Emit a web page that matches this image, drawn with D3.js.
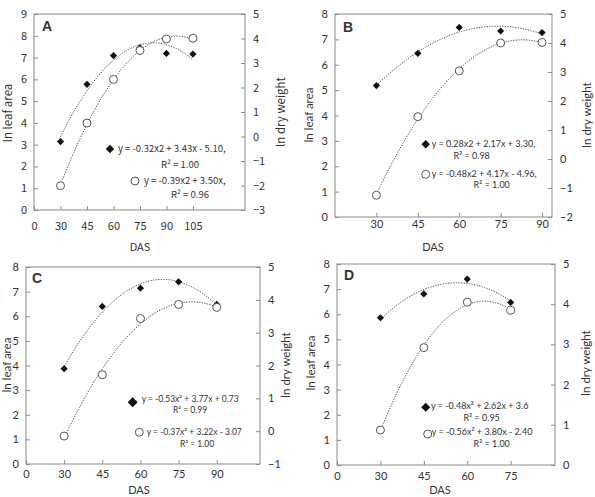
<!DOCTYPE html>
<html>
<head>
<meta charset="utf-8">
<script src="https://cdn.jsdelivr.net/npm/d3@7"></script>
<style>
  body { margin: 0; background: #fff; }
  svg text { fill: #333; }
</style>
</head>
<body>
<div id="chart"></div>
<script>
// values (DAS = days after sowing)
var dasA = [30, 45, 60, 75, 90, 105];
var leafA = [3.14, 5.77, 7.09, 7.45, 7.19, 7.16];
var dryA = [-2.01, 0.55, 2.33, 3.51, 3.98, 4.01];
var legendA = ["y = -0.32x2 + 3.43x - 5.10,", "R² = 1.00", "y = -0.39x2 + 3.50x,", "R² = 0.96"];
var xTicksA = [0, 30, 45, 60, 75, 90, 105];
var leftTicksA = [0, 1, 2, 3, 4, 5, 6, 7, 8, 9];
var rightTicksA = [-3, -2, -1, 0, 1, 2, 3, 4, 5];

var dasB = [30, 45, 60, 75, 90];
var leafB = [5.18, 6.45, 7.47, 7.33, 7.27];
var dryB = [-1.25, 1.46, 3.04, 4.00, 4.02];
var legendB = ["y = 0.28x2 + 2.17x + 3.30,", "R² = 0.98", "y = -0.48x2 + 4.17x - 4.96,", "R² = 1.00"];
var xTicksB = [30, 45, 60, 75, 90];
var leftTicksB = [0, 1, 2, 3, 4, 5, 6, 7, 8];
var rightTicksB = [-2, -1, 0, 1, 2, 3, 4, 5];

var dasC = [30, 45, 60, 75, 90];
var leafC = [3.87, 6.40, 7.14, 7.40, 6.48];
var dryC = [-0.15, 1.72, 3.43, 3.86, 3.77];
var legendC = ["y = -0.53x² + 3.77x + 0.73", "R² = 0.99", "y = -0.37x² + 3.22x - 3.07", "R² = 1.00"];
var xTicksC = [0, 30, 45, 60, 75, 90];
var leftTicksC = [0, 1, 2, 3, 4, 5, 6, 7, 8];
var rightTicksC = [-1, 0, 1, 2, 3, 4, 5];

var dasD = [30, 45, 60, 75];
var leafD = [5.86, 6.81, 7.40, 6.47];
var dryD = [0.87, 2.92, 4.05, 3.85];
var legendD = ["y = -0.48x² + 2.62x + 3.6", "R² = 0.95", "y = -0.56x² + 3.80x - 2.40", "R² = 1.00"];
var xTicksD = [0, 30, 45, 60, 75];
var leftTicksD = [0, 1, 2, 3, 4, 5, 6, 7, 8];
var rightTicksD = [0, 1, 2, 3, 4, 5];

var svg = d3.select("#chart")
  .append("svg")
  .attr("width", 595)
  .attr("height", 497);

// layout of each panel (pixel boxes, axis extents, legend spots)
var panels = [
  { name: "A", das: dasA, leaf: leafA, dry: dryA, legend: legendA,
    xTicks: xTicksA, leftTicks: leftTicksA, rightTicks: rightTicksA,
    box: [34, 14, 245, 210], xDom: [15, 134.5], font: "'Noto Sans CJK KR', 'Noto Sans', sans-serif",
    xPad: 12, label: [42, 31], leftTitle: [8, 113], rightTitle: [281, 112], das_t: [140, 251],
    dia: [110, 149, 36], t1: [118, 149], r1: [180, 165], circ: [135, 181], t2: [144, 181], r2: [190, 195], lfs: 9.5 },
  { name: "B", das: dasB, leaf: leafB, dry: dryB, legend: legendB,
    xTicks: xTicksB, leftTicks: leftTicksB, rightTicks: rightTicksB,
    box: [335, 14, 552, 217], xDom: [15, 93.6], font: "Lato, 'Open Sans', sans-serif",
    xPad: 3, label: [343, 32], leftTitle: [309, 115], rightTitle: [587, 115], das_t: [433, 251],
    dia: [425.7, 144.3, 36], t1: [431.7, 144.3], r1: [471.7, 155.7], circ: [425.7, 174.3], t2: [431.7, 174.3], r2: [491.7, 185], lfs: 9 },
  { name: "C", das: dasC, leaf: leafC, dry: dryC, legend: legendC,
    xTicks: xTicksC, leftTicks: leftTicksC, rightTicks: rightTicksC,
    box: [26, 267, 260, 464], xDom: [15, 107], font: "Lato, 'Open Sans', sans-serif",
    xPad: 6, label: [32, 283], leftTitle: [7, 365], rightTitle: [286, 365], das_t: [139, 494],
    dia: [132.7, 402.3, 50], t1: [141.7, 399], r1: [190, 410], circ: [139.3, 432.3], t2: [146.7, 431.7], r2: [197, 444], lfs: 8.5 },
  { name: "D", das: dasD, leaf: leafD, dry: dryD, legend: legendD,
    xTicks: xTicksD, leftTicks: leftTicksD, rightTicks: rightTicksD,
    box: [337, 264, 555, 465], xDom: [15, 90.3], font: "Lato, 'Open Sans', sans-serif",
    xPad: 7, label: [344, 280], leftTitle: [311, 363], rightTitle: [586, 363], das_t: [440, 494],
    dia: [425.7, 407.3, 40], t1: [431, 406.3], r1: [481.7, 418.3], circ: [427.7, 434], t2: [431.7, 431.7], r2: [491.7, 444], lfs: 9 }
];

// least squares quadratic, like the spreadsheet trendline
function quadFit(xs, ys) {
  var s = [0, 0, 0, 0, 0], t = [0, 0, 0];
  xs.forEach(function(x, i) {
    var u = x / 15;
    for (var k = 0; k < 5; k++) s[k] += Math.pow(u, k);
    for (var k = 0; k < 3; k++) t[k] += ys[i] * Math.pow(u, k);
  });
  var m = [[s[0], s[1], s[2], t[0]], [s[1], s[2], s[3], t[1]], [s[2], s[3], s[4], t[2]]];
  for (var i = 0; i < 3; i++) {
    for (var j = i + 1; j < 3; j++) {
      var f = m[j][i] / m[i][i];
      for (var k = i; k < 4; k++) m[j][k] -= f * m[i][k];
    }
  }
  var c = [0, 0, 0];
  for (var i = 2; i >= 0; i--) {
    var v = m[i][3];
    for (var k = i + 1; k < 3; k++) v -= m[i][k] * c[k];
    c[i] = v / m[i][i];
  }
  return function(x) { var u = x / 15; return c[0] + c[1] * u + c[2] * u * u; };
}

var diamond = d3.symbol().type(d3.symbolSquare);
var intFmt = d3.format("d");

panels.forEach(function(p) {
  var x0 = p.box[0], y0 = p.box[1], x1 = p.box[2], y1 = p.box[3];
  var g = svg.append("g").style("font-family", p.font);

  var x = d3.scaleLinear().domain(p.xDom).range([x0, x1]);
  var yL = d3.scaleLinear().domain(d3.extent(p.leftTicks)).range([y1, y0]);
  var yR = d3.scaleLinear().domain(d3.extent(p.rightTicks)).range([y1, y0]);

  // frame
  g.append("rect")
    .attr("x", x0).attr("y", y0)
    .attr("width", x1 - x0).attr("height", y1 - y0)
    .attr("fill", "none").attr("stroke", "#8a8a8a").attr("stroke-width", 1);

  var leftAxis = d3.axisLeft(yL).tickValues(p.leftTicks).tickFormat(intFmt).tickSize(-4).tickPadding(7);
  var rightAxis = d3.axisRight(yR).tickValues(p.rightTicks).tickFormat(intFmt).tickSize(-4).tickPadding(8);
  var bottomAxis = d3.axisBottom(x)
    .tickValues(p.xTicks.map(function(d) { return d === 0 ? p.xDom[0] : d; }))
    .tickFormat(function(d) { return d === p.xDom[0] ? "0" : d; })
    .tickSize(-4).tickPadding(p.xPad);

  [[leftAxis, "translate(" + x0 + ",0)"], [rightAxis, "translate(" + x1 + ",0)"], [bottomAxis, "translate(0," + y1 + ")"]]
    .forEach(function(a) {
      var ax = g.append("g").attr("transform", a[1]).call(a[0]);
      ax.select(".domain").remove();
      ax.selectAll("line").attr("stroke", "#8a8a8a");
      ax.selectAll("text").style("font-family", p.font).style("font-size", "11px").attr("fill", "#333");
    });

  // dotted trendlines
  var fitL = quadFit(p.das, p.leaf), fitR = quadFit(p.das, p.dry);
  var xs = d3.range(0, 61).map(function(i) {
    return p.das[0] + (p.das[p.das.length - 1] - p.das[0]) * i / 60;
  });
  g.append("path")
    .attr("d", d3.line().x(function(d) { return x(d); }).y(function(d) { return yL(fitL(d)); })(xs))
    .attr("fill", "none").attr("stroke", "#555").attr("stroke-width", 1).attr("stroke-dasharray", "1.3,1.3");
  g.append("path")
    .attr("d", d3.line().x(function(d) { return x(d); }).y(function(d) { return yR(fitR(d)); })(xs))
    .attr("fill", "none").attr("stroke", "#555").attr("stroke-width", 1).attr("stroke-dasharray", "1.3,1.3");

  // ln leaf area: filled diamonds
  g.selectAll(".dia").data(p.das).enter().append("path")
    .attr("d", diamond.size(26)())
    .attr("transform", function(d, i) { return "translate(" + x(d) + "," + yL(p.leaf[i]) + ") rotate(45)"; })
    .attr("fill", "#111");

  // ln dry weight: open circles
  g.selectAll(".circ").data(p.das).enter().append("circle")
    .attr("cx", function(d) { return x(d); })
    .attr("cy", function(d, i) { return yR(p.dry[i]); })
    .attr("r", 4)
    .attr("fill", "#fff").attr("stroke", "#555").attr("stroke-width", 1);

  // panel letter
  g.append("text").attr("x", p.label[0]).attr("y", p.label[1])
    .style("font-size", "14px").style("font-weight", "bold").attr("fill", "#222")
    .style("font-family", "'Liberation Sans', Arial, sans-serif")
    .text(p.name);

  // axis titles
  g.append("text")
    .attr("transform", "translate(" + p.leftTitle[0] + "," + p.leftTitle[1] + ") rotate(-90)")
    .attr("text-anchor", "middle").attr("dy", "0.35em")
    .style("font-size", "11.5px").text("ln leaf area");
  g.append("text")
    .attr("transform", "translate(" + p.rightTitle[0] + "," + p.rightTitle[1] + ") rotate(-90)")
    .attr("text-anchor", "middle").attr("dy", "0.35em")
    .style("font-size", "11.5px").text("ln dry weight");
  g.append("text")
    .attr("x", p.das_t[0]).attr("y", p.das_t[1])
    .attr("text-anchor", "middle")
    .style("font-size", "11px").text("DAS");

  // legend with fit equations
  g.append("path")
    .attr("d", diamond.size(p.dia[2])())
    .attr("transform", "translate(" + p.dia[0] + "," + p.dia[1] + ") rotate(45)")
    .attr("fill", "#111");
  g.append("circle")
    .attr("cx", p.circ[0]).attr("cy", p.circ[1]).attr("r", 4)
    .attr("fill", "#fff").attr("stroke", "#555");
  var spots = [[p.t1, "start"], [p.r1, "middle"], [p.t2, "start"], [p.r2, "middle"]];
  spots.forEach(function(s, i) {
    g.append("text")
      .attr("x", s[0][0]).attr("y", s[0][1]).attr("dy", "0.35em")
      .attr("text-anchor", s[1])
      .style("font-size", p.lfs + "px")
      .text(p.legend[i]);
  });
});
</script>
</body>
</html>
